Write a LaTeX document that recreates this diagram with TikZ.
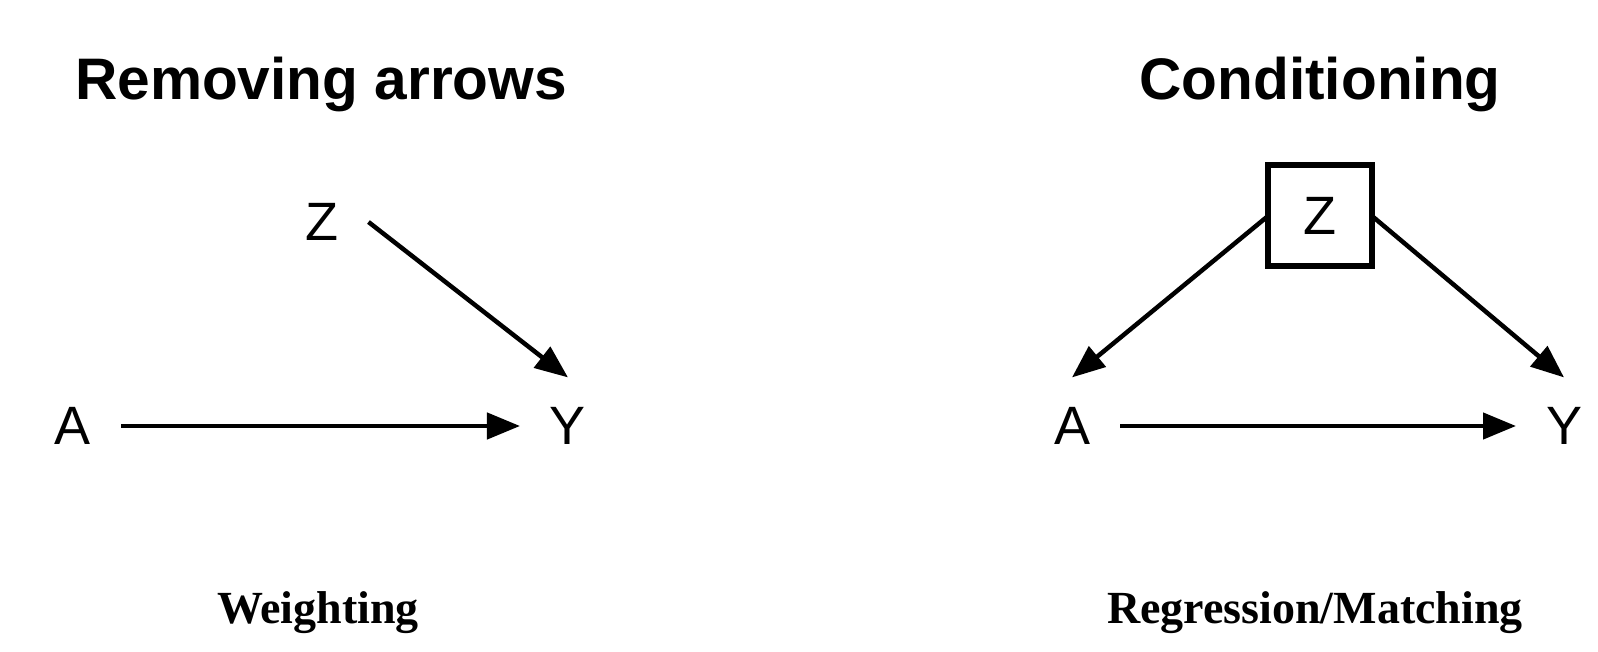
\documentclass[tikz,border=0pt]{standalone}
\usepackage{fontspec}
\setmainfont{Liberation Serif}
\setsansfont{Liberation Sans}
\usetikzlibrary{arrows.meta}
\newcommand{\TITLE}[1]{{\sffamily\bfseries\fontsize{58.6}{70}\selectfont #1}}
\newcommand{\METHOD}[1]{{\rmfamily\bfseries\fontsize{46}{55}\selectfont #1}}

\begin{document}
\begin{tikzpicture}[x=1pt,y=-1pt,
    var/.style={inner sep=0pt,outer sep=30pt,font=\sffamily\fontsize{54}{60}\selectfont},
    condvar/.style={draw,line width=6pt,inner sep=0pt,outer sep=0pt,
      minimum width=104pt,minimum height=101pt,font=\sffamily\fontsize{54}{60}\selectfont},
    arr/.style={line width=4.5pt,-{Triangle[length=33pt,width=26pt]}}]
    \useasboundingbox (0,0) rectangle (1598,652);

    % left: removing arrows
    \node[anchor=base] (tL) at (321,100) {\TITLE{Removing arrows}};
    \node[var] (zL) at (322,222) {Z};
    \node[var] (aL) at (73,426) {A};
    \node[var] (yL) at (568,426) {Y};
    \draw[arr] (zL.east) -- (yL.north);
    \draw[arr] (aL.east) -- (yL.west);
    \node[anchor=base] (mL) at (318,623) {\METHOD{Weighting}};

    % right: conditioning
    \node[anchor=base] (tR) at (1320,100) {\TITLE{Conditioning}};
    \node[condvar] (zR) at (1320,216) {Z};
    \node[var] (aR) at (1072,426) {A};
    \node[var] (yR) at (1564,426) {Y};
    \draw[arr] (zR.west) -- (aR.north);
    \draw[arr] (zR.east) -- (yR.north);
    \draw[arr] (aR.east) -- (yR.west);
    \node[anchor=base] (mR) at (1315,623) {\METHOD{Regression/Matching}};
\end{tikzpicture}
\end{document}
